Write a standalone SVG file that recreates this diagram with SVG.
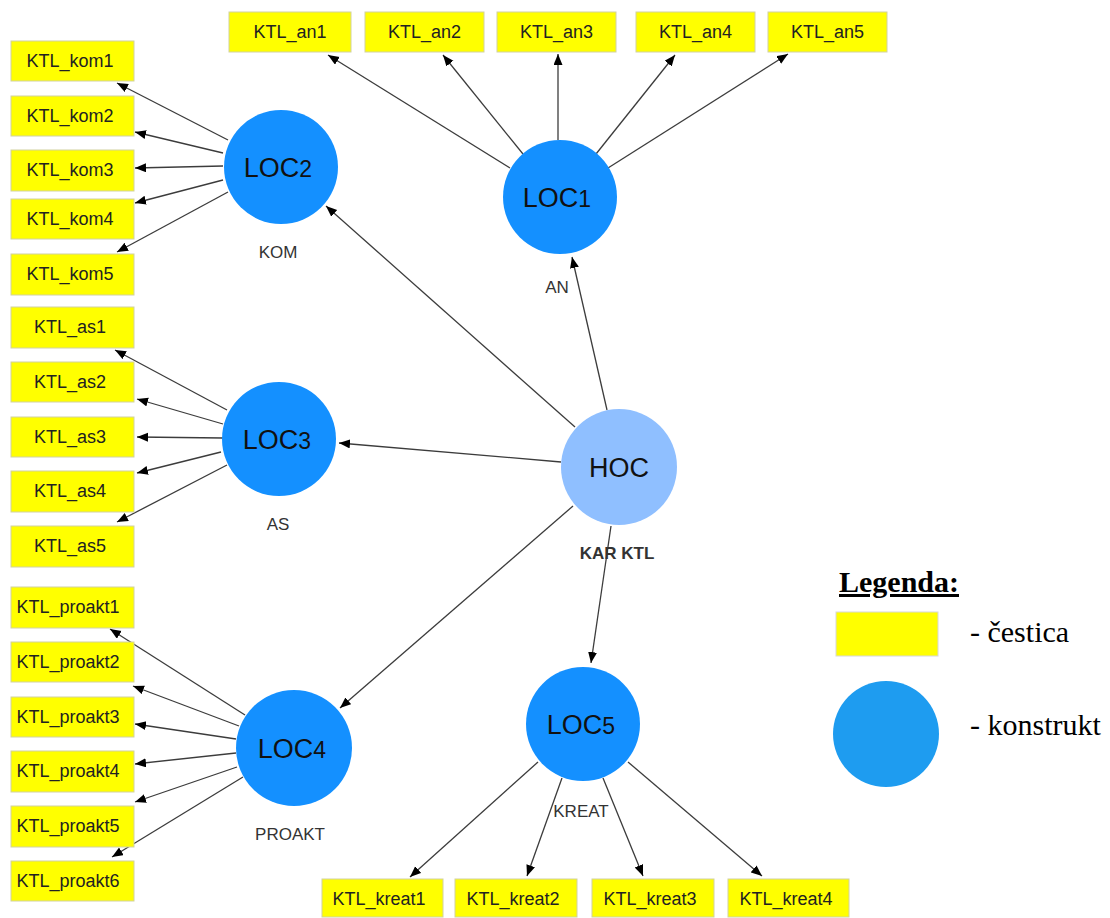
<svg xmlns="http://www.w3.org/2000/svg" width="1110" height="918" viewBox="0 0 1110 918">
<style>
.box{fill:#ffff00;stroke:#d2d2a0;stroke-width:1}
.bt{font-family:"Liberation Sans",Arial,sans-serif;font-size:18px;fill:#222;text-anchor:middle}
.loc{fill:#1490ff}
.lt{font-family:"Liberation Sans",Arial,sans-serif;font-size:27px;fill:#111;text-anchor:middle}
.lab{font-family:"Liberation Sans",Arial,sans-serif;font-size:17px;fill:#333;text-anchor:middle}
.c line{stroke:#3c3c3c;stroke-width:1.3;marker-end:url(#ah)}
.lg{font-family:"Liberation Serif","Times New Roman",serif;font-size:30px;fill:#000}
</style>
<defs>
<marker id="ah" markerUnits="userSpaceOnUse" markerWidth="12" markerHeight="10" refX="11" refY="4.5" orient="auto">
<path d="M0,0 L11,4.5 L0,9 z" fill="#000"/>
</marker>
</defs>
<rect width="1110" height="918" fill="#fff"/>

<g class="c" id="connectors">
<line x1="228" y1="140" x2="117" y2="83"/>
<line x1="223" y1="153" x2="135" y2="132"/>
<line x1="223" y1="166" x2="135" y2="168"/>
<line x1="223" y1="180" x2="135" y2="203"/>
<line x1="228" y1="192" x2="117" y2="252"/>

<line x1="510" y1="168" x2="328" y2="55"/>
<line x1="523" y1="154" x2="443" y2="55"/>
<line x1="558" y1="140" x2="558" y2="54"/>
<line x1="596" y1="154" x2="675" y2="55"/>
<line x1="608" y1="168" x2="788" y2="54"/>

<line x1="227" y1="410" x2="115" y2="350"/>
<line x1="223" y1="424" x2="137" y2="399"/>
<line x1="223" y1="438" x2="137" y2="437"/>
<line x1="221" y1="452" x2="137" y2="473"/>
<line x1="227" y1="465" x2="117" y2="522"/>

<line x1="245" y1="715" x2="110" y2="629"/>
<line x1="239" y1="726" x2="133" y2="686"/>
<line x1="236" y1="739" x2="135" y2="724"/>
<line x1="236" y1="753" x2="135" y2="764"/>
<line x1="237" y1="767" x2="135" y2="802"/>
<line x1="243" y1="777" x2="112" y2="857"/>

<line x1="538" y1="762" x2="410" y2="877"/>
<line x1="562" y1="778" x2="527" y2="876"/>
<line x1="603" y1="778" x2="643" y2="876"/>
<line x1="628" y1="762" x2="762" y2="876"/>

<line x1="607" y1="410" x2="572" y2="257"/>
<line x1="575" y1="427" x2="326" y2="206"/>
<line x1="561" y1="462" x2="339" y2="443"/>
<line x1="573" y1="506" x2="340" y2="708"/>
<line x1="611" y1="526" x2="591" y2="663"/>
</g>

<g id="an1"><rect class="box" x="229" y="12" width="122" height="40"/><text class="bt" x="290" y="38">KTL_an1</text></g>
<g id="an2"><rect class="box" x="365" y="12" width="119" height="40"/><text class="bt" x="424.5" y="38">KTL_an2</text></g>
<g id="an3"><rect class="box" x="497" y="12" width="119" height="40"/><text class="bt" x="556.5" y="38">KTL_an3</text></g>
<g id="an4"><rect class="box" x="636" y="12" width="119" height="40"/><text class="bt" x="695.5" y="38">KTL_an4</text></g>
<g id="an5"><rect class="box" x="768" y="12" width="119" height="40"/><text class="bt" x="827.5" y="38">KTL_an5</text></g>

<g id="kom1"><rect class="box" x="11" y="41" width="123" height="40"/><text class="bt" x="70" y="67">KTL_kom1</text></g>
<g id="kom2"><rect class="box" x="11" y="96" width="123" height="40"/><text class="bt" x="70" y="122">KTL_kom2</text></g>
<g id="kom3"><rect class="box" x="11" y="150" width="123" height="41"/><text class="bt" x="70" y="176">KTL_kom3</text></g>
<g id="kom4"><rect class="box" x="11" y="199" width="123" height="40"/><text class="bt" x="70" y="225">KTL_kom4</text></g>
<g id="kom5"><rect class="box" x="11" y="254" width="123" height="41"/><text class="bt" x="70" y="280">KTL_kom5</text></g>

<g id="as1"><rect class="box" x="11" y="307" width="123" height="41"/><text class="bt" x="70" y="333">KTL_as1</text></g>
<g id="as2"><rect class="box" x="11" y="362" width="123" height="40"/><text class="bt" x="70" y="388">KTL_as2</text></g>
<g id="as3"><rect class="box" x="11" y="417" width="123" height="40"/><text class="bt" x="70" y="443">KTL_as3</text></g>
<g id="as4"><rect class="box" x="11" y="471" width="123" height="41"/><text class="bt" x="70" y="497">KTL_as4</text></g>
<g id="as5"><rect class="box" x="11" y="526" width="123" height="41"/><text class="bt" x="70" y="552">KTL_as5</text></g>

<g id="proakt1"><rect class="box" x="11" y="587" width="123" height="41"/><text class="bt" x="68" y="613">KTL_proakt1</text></g>
<g id="proakt2"><rect class="box" x="11" y="642" width="123" height="40"/><text class="bt" x="68" y="668">KTL_proakt2</text></g>
<g id="proakt3"><rect class="box" x="11" y="697" width="123" height="40"/><text class="bt" x="68" y="723">KTL_proakt3</text></g>
<g id="proakt4"><rect class="box" x="11" y="751" width="123" height="41"/><text class="bt" x="68" y="777">KTL_proakt4</text></g>
<g id="proakt5"><rect class="box" x="11" y="806" width="123" height="41"/><text class="bt" x="68" y="832">KTL_proakt5</text></g>
<g id="proakt6"><rect class="box" x="11" y="861" width="123" height="40"/><text class="bt" x="68" y="887">KTL_proakt6</text></g>

<g id="kreat1"><rect class="box" x="322" y="879" width="121" height="38"/><text class="bt" x="379" y="905">KTL_kreat1</text></g>
<g id="kreat2"><rect class="box" x="455" y="879" width="122" height="38"/><text class="bt" x="513" y="905">KTL_kreat2</text></g>
<g id="kreat3"><rect class="box" x="592" y="879" width="122" height="38"/><text class="bt" x="650" y="905">KTL_kreat3</text></g>
<g id="kreat4"><rect class="box" x="728" y="879" width="121" height="38"/><text class="bt" x="786" y="905">KTL_kreat4</text></g>

<g id="LOC1"><circle class="loc" cx="560" cy="197" r="57"/><text class="lt" x="557" y="207">LOC<tspan font-size="23">1</tspan></text><text class="lab" x="557" y="293">AN</text></g>
<g id="LOC2"><circle class="loc" cx="281" cy="167" r="57"/><text class="lt" x="278" y="177">LOC<tspan font-size="23">2</tspan></text><text class="lab" x="278" y="258">KOM</text></g>
<g id="LOC3"><circle class="loc" cx="279" cy="439" r="57"/><text class="lt" x="277" y="449">LOC<tspan font-size="23">3</tspan></text><text class="lab" x="278" y="530">AS</text></g>
<g id="LOC4"><circle class="loc" cx="294" cy="748" r="58"/><text class="lt" x="292" y="758">LOC<tspan font-size="23">4</tspan></text><text class="lab" x="290" y="840">PROAKT</text></g>
<g id="LOC5"><circle class="loc" cx="583" cy="724" r="57"/><text class="lt" x="581" y="734">LOC<tspan font-size="23">5</tspan></text><text class="lab" x="581" y="817">KREAT</text></g>
<g id="HOC"><circle cx="619" cy="467" r="58" fill="#8fbfff"/><text class="lt" x="619" y="477">HOC</text><text class="lab" x="617" y="559" font-size="18" font-weight="bold" fill="#111">KAR KTL</text></g>

<g id="legend">
<text class="lg" x="839" y="592" font-weight="bold" text-decoration="underline">Legenda:</text>
<rect x="836" y="612" width="102" height="44" fill="#ffff00" stroke="#d8d8d8" stroke-width="1"/>
<text class="lg" x="970" y="642">- čestica</text>
<circle cx="886" cy="734" r="53" fill="#1e9cf0"/>
<text class="lg" x="970" y="735">- konstrukt</text>
</g>
</svg>
